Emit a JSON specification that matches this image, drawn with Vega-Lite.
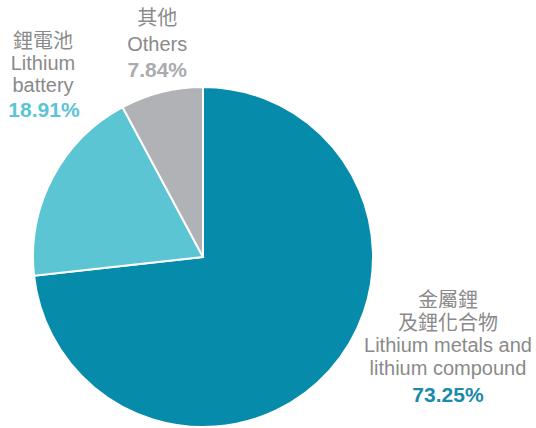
{
  "$schema": "https://vega.github.io/schema/vega-lite/v6.json",
  "autosize": "none",
  "width": 406,
  "height": 428,
  "padding": {"left": 0, "top": 43, "right": 130, "bottom": 0},
  "background": "white",
  "config": {"view": {"stroke": null}},
  "data": {"values": [
    {"order": 1, "zh": "金屬鋰\n及鋰化合物", "en": "Lithium metals and\nlithium compound", "pct": "73.25%", "value": 73.25},
    {"order": 2, "zh": "鋰電池", "en": "Lithium\nbattery", "pct": "18.91%", "value": 18.91},
    {"order": 3, "zh": "其他", "en": "Others", "pct": "7.84%", "value": 7.84}
  ]},
  "transform": [
    {"stack": "value", "groupby": [], "sort": [{"field": "order"}], "as": ["v0", "v1"]},
    {"calculate": "(datum.v0 + datum.v1) / 2", "as": "mid"},
    {"calculate": "split(datum.zh + '\\n' + datum.en, '\\n')", "as": "lbl"}
  ],
  "layer": [
    {
      "mark": {"type": "arc", "outerRadius": 170, "stroke": "white", "strokeWidth": 2},
      "encoding": {
        "theta": {"field": "v0", "type": "quantitative", "scale": {"domain": [0, 100]}},
        "theta2": {"field": "v1"},
        "color": {"field": "order", "type": "nominal", "legend": null,
          "scale": {"domain": [1, 2, 3], "range": ["#068bab", "#5bc5d4", "#b0b2b5"]}}
      }
    },
    {
      "transform": [{"filter": "datum.order == 1"}],
      "mark": {"type": "text", "radius": 200, "dx": 96, "dy": -89, "fontSize": 20, "font": "Liberation Sans, Noto Sans CJK TC", "color": "#8a8a8a", "align": "center", "baseline": "middle", "lineHeight": 22.5},
      "encoding": {"theta": {"field": "mid", "type": "quantitative", "scale": {"domain": [0, 100]}}, "text": {"field": "lbl"}}
    },
    {
      "transform": [{"filter": "datum.order == 1"}],
      "mark": {"type": "text", "radius": 200, "dx": 96, "dy": 6, "fontSize": 21, "fontWeight": "bold", "font": "Liberation Sans", "color": "#1a8aab", "align": "center", "baseline": "middle"},
      "encoding": {"theta": {"field": "mid", "type": "quantitative", "scale": {"domain": [0, 100]}}, "text": {"field": "pct"}}
    },
    {
      "transform": [{"filter": "datum.order == 2"}],
      "mark": {"type": "text", "radius": 200, "dx": 17, "dy": -122, "fontSize": 20, "font": "Liberation Sans, Noto Sans CJK TC", "color": "#8a8a8a", "align": "center", "baseline": "middle", "lineHeight": 22},
      "encoding": {"theta": {"field": "mid", "type": "quantitative", "scale": {"domain": [0, 100]}}, "text": {"field": "lbl"}}
    },
    {
      "transform": [{"filter": "datum.order == 2"}],
      "mark": {"type": "text", "radius": 200, "dx": 18, "dy": -53, "fontSize": 21, "fontWeight": "bold", "font": "Liberation Sans", "color": "#5bc5d4", "align": "center", "baseline": "middle"},
      "encoding": {"theta": {"field": "mid", "type": "quantitative", "scale": {"domain": [0, 100]}}, "text": {"field": "pct"}}
    },
    {
      "transform": [{"filter": "datum.order == 3"}],
      "mark": {"type": "text", "radius": 200, "dx": 3, "dy": -44, "fontSize": 20, "font": "Liberation Sans, Noto Sans CJK TC", "color": "#8a8a8a", "align": "center", "baseline": "middle", "lineHeight": 26},
      "encoding": {"theta": {"field": "mid", "type": "quantitative", "scale": {"domain": [0, 100]}}, "text": {"field": "lbl"}}
    },
    {
      "transform": [{"filter": "datum.order == 3"}],
      "mark": {"type": "text", "radius": 200, "dx": 3, "dy": 8, "fontSize": 21, "fontWeight": "bold", "font": "Liberation Sans", "color": "#a9abae", "align": "center", "baseline": "middle"},
      "encoding": {"theta": {"field": "mid", "type": "quantitative", "scale": {"domain": [0, 100]}}, "text": {"field": "pct"}}
    }
  ]
}
